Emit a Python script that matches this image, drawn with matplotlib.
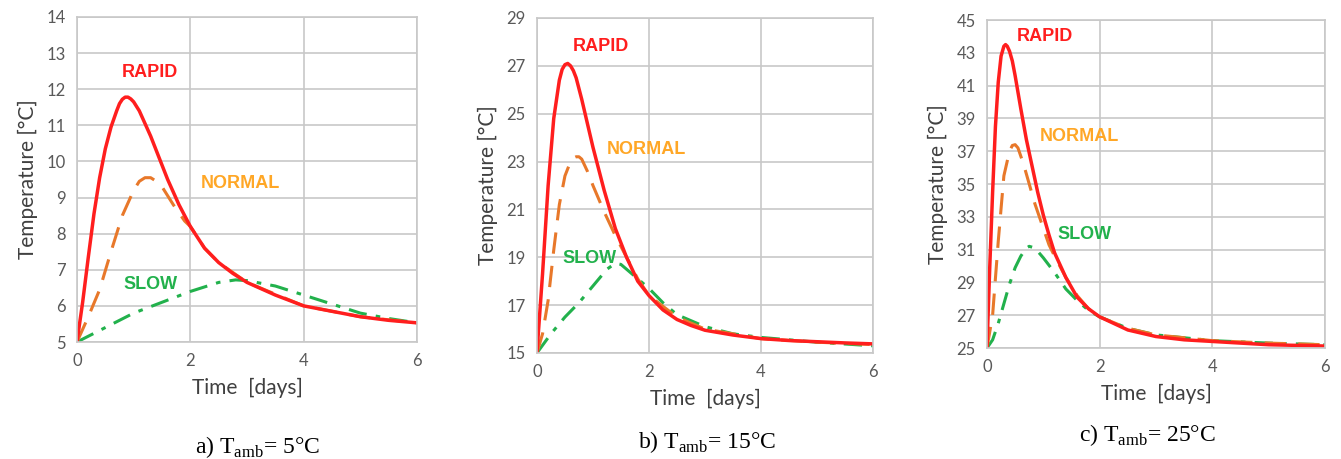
import matplotlib.pyplot as plt

plt.rcParams['mathtext.fontset'] = 'custom'
plt.rcParams['mathtext.rm'] = 'Liberation Serif'

# ---- panel a) Tamb = 5 C ----
t_rapid_a = [0, 0.1, 0.2, 0.3, 0.4, 0.5, 0.6, 0.7, 0.75, 0.8, 0.85, 0.9, 0.95, 1.0, 1.1, 1.2, 1.3, 1.4, 1.6,
             1.8, 2.0, 2.25, 2.5, 2.75, 3.0, 3.5, 4.0, 4.5, 5.0, 5.5, 6.0]
rapid_a = [5.0, 6.1, 7.35, 8.55, 9.55, 10.35, 10.95, 11.4, 11.6, 11.72, 11.78, 11.78, 11.73, 11.65, 11.4, 11.05,
           10.7, 10.3, 9.5, 8.8, 8.2, 7.6, 7.2, 6.9, 6.65, 6.3, 6.0, 5.85, 5.7, 5.6, 5.53]
t_normal_a = [0, 0.2, 0.4, 0.6, 0.8, 1.0, 1.1, 1.2, 1.3, 1.4, 1.5, 1.7, 1.9, 2.0, 2.25, 2.5, 3.0, 4.0, 5.0, 6.0]
normal_a = [5.0, 5.7, 6.45, 7.5, 8.5, 9.2, 9.45, 9.55, 9.55, 9.45, 9.3, 8.8, 8.35, 8.2, 7.6, 7.2, 6.65, 6.0,
            5.7, 5.53]
t_slow_a = [0, 0.5, 1.0, 1.5, 2.0, 2.5, 2.8, 3.0, 3.5, 4.0, 4.5, 5.0, 5.5, 6.0]
slow_a = [5.0, 5.4, 5.8, 6.1, 6.4, 6.65, 6.72, 6.7, 6.55, 6.3, 6.05, 5.8, 5.65, 5.53]

# ---- panel b) Tamb = 15 C ----
t_rapid_b = [0, 0.1, 0.2, 0.3, 0.4, 0.45, 0.5, 0.55, 0.6, 0.65, 0.7, 0.8, 0.9, 1.0, 1.2, 1.4, 1.6, 1.8, 2.0,
             2.25, 2.5, 2.75, 3.0, 3.5, 4.0, 4.5, 5.0, 5.5, 6.0]
rapid_b = [15.0, 18.3, 22.0, 24.8, 26.4, 26.85, 27.05, 27.1, 27.0, 26.8, 26.5, 25.6, 24.6, 23.6, 21.8, 20.2,
           19.0, 18.0, 17.4, 16.8, 16.4, 16.15, 15.95, 15.75, 15.6, 15.52, 15.47, 15.42, 15.38]
t_normal_b = [0, 0.1, 0.2, 0.3, 0.4, 0.5, 0.6, 0.65, 0.7, 0.75, 0.8, 0.9, 1.0, 1.2, 1.4, 1.6, 1.8, 2.0, 2.5,
              3.0, 4.0, 5.0, 6.0]
normal_b = [15.0, 15.8, 17.2, 19.3, 21.2, 22.4, 23.0, 23.15, 23.2, 23.2, 23.1, 22.6, 22.0, 20.9, 19.9, 19.0,
            18.1, 17.4, 16.5, 16.0, 15.6, 15.45, 15.35]
t_slow_b = [0, 0.25, 0.5, 0.75, 1.0, 1.25, 1.4, 1.5, 1.75, 2.0, 2.25, 2.5, 3.0, 3.5, 4.0, 5.0, 6.0]
slow_b = [15.0, 15.8, 16.5, 17.1, 17.8, 18.5, 18.75, 18.7, 18.2, 17.7, 17.1, 16.6, 16.1, 15.8, 15.65, 15.45, 15.3]

# ---- panel c) Tamb = 25 C ----
t_rapid_c = [0, 0.05, 0.1, 0.15, 0.2, 0.25, 0.3, 0.33, 0.36, 0.4, 0.45, 0.5, 0.6, 0.7, 0.8, 0.9, 1.0, 1.1, 1.2,
             1.4, 1.6, 1.8, 2.0, 2.25, 2.5, 3.0, 3.5, 4.0, 5.0, 6.0]
rapid_c = [25.0, 30.0, 34.5, 38.5, 41.2, 42.8, 43.4, 43.5, 43.4, 43.1, 42.5, 41.6, 39.6, 37.7, 36.1, 34.5,
           33.1, 31.9, 30.8, 29.3, 28.1, 27.4, 26.9, 26.5, 26.1, 25.7, 25.5, 25.4, 25.2, 25.12]
t_normal_c = [0, 0.1, 0.2, 0.3, 0.4, 0.45, 0.5, 0.55, 0.65, 0.75, 0.85, 1.0, 1.1, 1.2, 1.4, 1.6, 1.8, 2.0, 2.5,
              3.0, 4.0, 5.0, 6.0]
normal_c = [25.0, 27.0, 31.5, 35.5, 37.0, 37.35, 37.4, 37.2, 36.2, 35.0, 33.8, 32.3, 31.3, 30.6, 29.3, 28.2,
            27.4, 26.9, 26.2, 25.8, 25.45, 25.3, 25.2]
t_slow_c = [0, 0.1, 0.2, 0.3, 0.4, 0.5, 0.6, 0.7, 0.75, 0.85, 1.0, 1.2, 1.4, 1.6, 1.8, 2.0, 2.5, 3.0, 4.0, 5.0, 6.0]
slow_c = [25.0, 25.5, 26.5, 27.7, 28.9, 29.9, 30.6, 31.1, 31.2, 31.1, 30.5, 29.6, 28.6, 27.9, 27.3, 26.9, 26.2,
          25.8, 25.45, 25.3, 25.2]

captions = ['a) T$_{\\rm amb}$= 5°C', 'b) T$_{\\rm amb}$= 15°C', 'c) T$_{\\rm amb}$= 25°C']
ylims = [(5, 14), (15, 29), (25, 45)]
yticks = [list(range(5, 15)), list(range(15, 30, 2)), list(range(25, 46, 2))]
xticks = [0, 2, 4, 6]

# label positions (x, y) for RAPID, NORMAL, SLOW
label_pos = [[(1.29, 12.45), (2.88, 9.4), (1.29, 6.6)],
             [(1.15, 27.8), (1.95, 23.5), (0.94, 18.95)],
             [(1.02, 44.0), (1.64, 37.9), (1.73, 31.9)]]

axes_rects = [[0.0574, 0.2549, 0.2536, 0.7081],
              [0.4004, 0.2310, 0.2506, 0.7298],
              [0.7360, 0.2418, 0.2521, 0.7146]]
caption_pos = [(0.192, 0.025), (0.527, 0.037), (0.856, 0.052)]

data = [(t_rapid_a, rapid_a, t_normal_a, normal_a, t_slow_a, slow_a),
        (t_rapid_b, rapid_b, t_normal_b, normal_b, t_slow_b, slow_b),
        (t_rapid_c, rapid_c, t_normal_c, normal_c, t_slow_c, slow_c)]

red = '#FF1E1E'
orange_line = '#E8782A'
orange_txt = '#FFA726'
green = '#22B14C'
grid_col = '#C8C8C8'
tick_col = '#595959'

fig = plt.figure(figsize=(13.41, 4.59), dpi=100)

for i in range(3):
    ax = fig.add_axes(axes_rects[i])
    tr, r, tn, n, ts, s = data[i]
    ax.plot(ts, s, color=green, lw=2.2, linestyle=(0, (6, 3, 1.5, 3)))
    ax.plot(tn, n, color=orange_line, lw=2.2, linestyle=(0, (7, 4)))
    ax.plot(tr, r, color=red, lw=2.5)

    ax.set_xlim(0, 6)
    ax.set_ylim(*ylims[i])
    ax.set_xticks(xticks)
    ax.set_yticks(yticks[i])
    ax.grid(True, color=grid_col, lw=1.2)
    ax.set_axisbelow(True)
    for sp in ax.spines.values():
        sp.set_color(grid_col)
        sp.set_linewidth(1.2)
    ax.tick_params(length=0, labelsize=12, labelcolor=tick_col, pad=8)
    for lab in ax.get_xticklabels() + ax.get_yticklabels():
        lab.set_family('Lato')
    ax.set_xlabel('Time  [days]', fontsize=15, family='Lato', color='#404040', labelpad=6)
    ax.set_ylabel('Temperature [°C]', fontsize=15, family='Lato', color='#404040', labelpad=6)

    names = ['RAPID', 'NORMAL', 'SLOW']
    cols = [red, orange_txt, green]
    for name, col, (lx, ly) in zip(names, cols, label_pos[i]):
        ax.text(lx, ly, name, color=col, fontsize=13, fontweight='bold',
                family='Liberation Sans', ha='center', va='center')

    fig.text(caption_pos[i][0], caption_pos[i][1], captions[i], fontsize=17,
             family='Liberation Serif', ha='center', va='center')

plt.savefig('out.png', dpi=100)
